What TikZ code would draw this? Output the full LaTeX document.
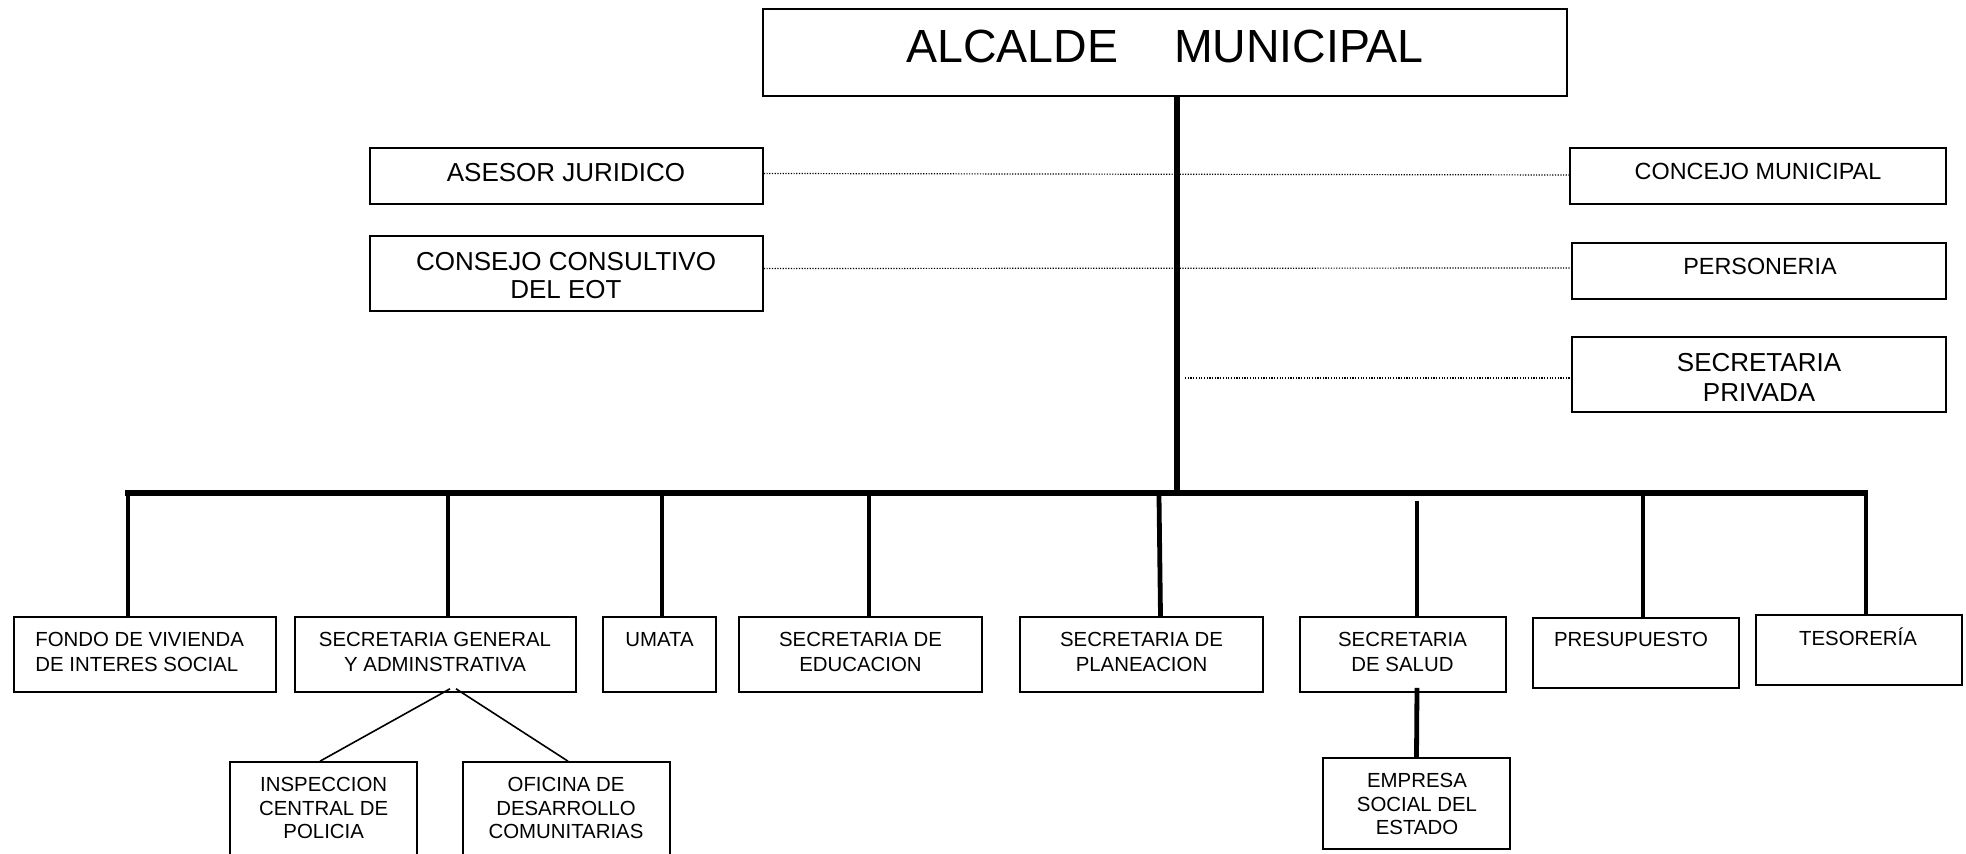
\documentclass[tikz,border=0pt]{standalone}
\usepackage{fontspec}
\setmainfont{Liberation Sans}
\newcommand\orgbox[5]{\node[box, minimum width={(#4-#2)*0.5pt}, minimum height={(#5-#3)*0.5pt}] (#1) at ({(#2+#4)/2},{(#3+#5)/2}) {};}
\begin{document}
\begin{tikzpicture}[x=0.5pt,y=-0.5pt,
  box/.style={draw, line width=0.8pt, rectangle, inner sep=0pt},
  txt/.style={inner sep=0pt, align=center},
  trunkline/.style={line width=3pt},
  busline/.style={line width=2.6pt},
  dropline/.style={line width=2.4pt},
  subline/.style={line width=0.8pt},
  dotline/.style={line width=0.6pt, dash pattern=on 0.6pt off 0.75pt},
  fbig/.style={font=\fontsize{23.25}{28}\selectfont},
  fmid/.style={font=\fontsize{13}{14}\selectfont},
  fmidb/.style={font=\fontsize{13}{15}\selectfont},
  fsm/.style={font=\fontsize{11.7}{14}\selectfont},
  fbot/.style={font=\fontsize{10.2}{12.5}\selectfont},
  fsub/.style={font=\fontsize{10.2}{11.8}\selectfont}]
\useasboundingbox (0,0) rectangle (1966,854);
\fill[white] (0,0) rectangle (1966,854);
\clip (0,0) rectangle (1966,854);

% top
\orgbox{alcalde}{763}{9}{1567}{96}
\node[fbig, inner sep=0pt, anchor=base] (t-alcalde) at (1165,63) {ALCALDE\hspace{28pt}MUNICIPAL};

\orgbox{asesor}{370}{148}{763}{204}
\node[fmid, txt, anchor=base] (t-asesor) at (566,182) {ASESOR JURIDICO};
\orgbox{consejo}{370}{236}{763}{311}
\node[fmid, txt, anchor=north] (t-consejo) at (566,252) {CONSEJO CONSULTIVO\\DEL EOT};

\orgbox{concejo}{1570}{148}{1946}{204}
\node[fsm, txt, anchor=base] (t-concejo) at (1758,180) {CONCEJO MUNICIPAL};
\orgbox{personeria}{1572}{243}{1946}{299}
\node[fsm, txt, anchor=base] (t-personeria) at (1760,275) {PERSONERIA};
\orgbox{privada}{1572}{337}{1946}{412}
\node[fmidb, txt, anchor=north] (t-privada) at (1759,353) {SECRETARIA\\PRIVADA};

% trunk and bus
\coordinate (busjoin) at (1177,493);
\coordinate (busL) at (125,493);
\coordinate (busR) at (1868,493);
\draw[trunkline] ([xshift=6pt]alcalde.south) -- (busjoin);
\draw[busline] (busL) -- (busR);

% dotted advisory lines
\draw[dotline] ([yshift=1.25pt]asesor.east) -- ([yshift=0.5pt]concejo.west);
\draw[dotline] ([yshift=2.5pt]consejo.east) -- ([yshift=1.5pt]personeria.west);
\coordinate (privjoin) at (1185,378);
\draw[dotline] (privjoin) -- (privjoin -| privada.west);

% bottom boxes
\orgbox{fondo}{14}{617}{276}{692}
\node[fbot, inner sep=0pt, align=left, anchor=north west] (t-fondo) at (35,632) {FONDO DE VIVIENDA\\DE INTERES SOCIAL};
\orgbox{secgen}{295}{617}{576}{692}
\node[fbot, txt, anchor=north] (t-secgen) at (435,632) {SECRETARIA GENERAL\\Y ADMINSTRATIVA};
\orgbox{umata}{603}{617}{716}{692}
\node[fbot, txt, anchor=base] (t-umata) at (659.5,647) {UMATA};
\orgbox{educ}{739}{617}{982}{692}
\node[fbot, txt, anchor=north] (t-educ) at (860.5,632) {SECRETARIA DE\\EDUCACION};
\orgbox{plan}{1020}{617}{1263}{692}
\node[fbot, txt, anchor=north] (t-plan) at (1141.5,632) {SECRETARIA DE\\PLANEACION};
\orgbox{salud}{1300}{617}{1506}{692}
\node[fbot, txt, anchor=north] (t-salud) at (1402.5,632) {SECRETARIA\\DE SALUD};
\orgbox{presup}{1533}{618}{1739}{688}
\node[fbot, txt, anchor=base] (t-presup) at (1631,647) {PRESUPUESTO};
\orgbox{tesor}{1756}{615}{1962}{685}
\node[fbot, txt, anchor=base] (t-tesor) at (1858,646) {TESORERÍA};

% drops
\coordinate (dFondo) at (128,493);
\coordinate (dSecgen) at (448,496);
\coordinate (dUmata) at (662,496);
\coordinate (dEduc) at (869,496);
\coordinate (dPlan) at (1159,496);
\coordinate (dSalud) at (1417,501);
\coordinate (dPresup) at (1643,493);
\coordinate (dTesor) at (1866,490);
\draw[dropline] (dFondo) -- (dFondo |- fondo.north);
\draw[dropline] (dSecgen) -- (dSecgen |- secgen.north);
\draw[dropline] (dUmata) -- (dUmata |- umata.north);
\draw[dropline] (dEduc) -- (dEduc |- educ.north);
\draw[dropline] (dPlan) -- ([xshift=9.5pt]plan.north);
\draw[dropline] (dSalud) -- (dSalud |- salud.north);
\draw[dropline] (dPresup) -- (dPresup |- presup.north);
\draw[dropline] (dTesor) -- (dTesor |- tesor.north);

% sub boxes
\orgbox{insp}{230}{762}{417}{860}
\node[fsub, txt, anchor=north] (t-insp) at (323.7,777) {INSPECCION\\CENTRAL DE\\POLICIA};
\orgbox{ofic}{463}{762}{670}{860}
\node[fsub, txt, anchor=north] (t-ofic) at (566,777) {OFICINA DE\\DESARROLLO\\COMUNITARIAS};
\orgbox{empresa}{1323}{758}{1510}{849}
\node[fsub, txt, anchor=north] (t-empresa) at (1417,773) {EMPRESA\\SOCIAL DEL\\ESTADO};

\draw[subline] ([xshift=7.25pt,yshift=2pt]secgen.south) -- ([xshift=-1.75pt]insp.north);
\draw[subline] ([xshift=10.25pt,yshift=2pt]secgen.south) -- ([xshift=0.75pt]ofic.north);
\draw[dropline] ([xshift=7pt,yshift=2.5pt]salud.south) -- (empresa.north);
\end{tikzpicture}
\end{document}
